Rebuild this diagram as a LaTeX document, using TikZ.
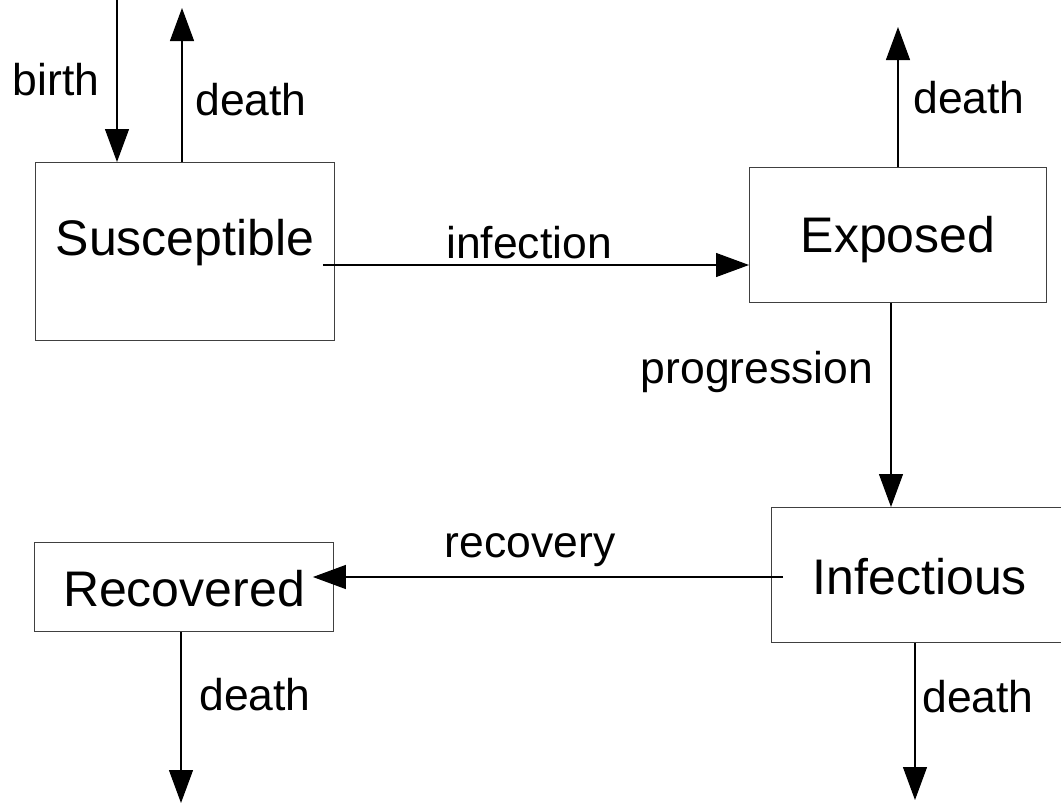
\documentclass[tikz,border=0pt]{standalone}
\usepackage{fontspec}
\setmainfont{Liberation Sans}
\usetikzlibrary{arrows.meta}
\begin{document}
\begin{tikzpicture}[x=1pt,y=-1pt,
  box/.style={draw=black!75, line width=0.9pt, inner sep=0pt, anchor=north west, font=\fontsize{50}{56}\selectfont},
  lbl/.style={inner sep=0pt, anchor=base, font=\fontsize{44.5}{50}\selectfont},
  arr/.style={line width=1.2pt, -{Triangle[length=33pt,width=24pt]}}]
\useasboundingbox (0,0) rectangle (1061,806);
% compartments
\node[box, minimum width=299pt, text height=93pt, text depth=85pt] (S) at (35,162) {Susceptible};
\node[box, minimum width=297pt, text height=85pt, text depth=50pt] (E) at (749,167) {Exposed};
\node[box, minimum width=297pt, text height=87pt, text depth=48pt] (I) at (771,507) {Infectious};
\node[box, minimum width=299pt, text height=64pt, text depth=25pt] (R) at (34,542) {Recovered};
% helper coordinates
\coordinate (birthsrc) at (117,0);
\coordinate (Sdeath) at (182,8);
\coordinate (Edeath) at (898,27);
\coordinate (Ideath) at (915,800);
\coordinate (Rdeath) at (181,803);
\coordinate (infrow) at (0,265);
\coordinate (recrow) at (0,577);
\coordinate (progx) at (891,0);
% flows
\draw[arr] (birthsrc) -- (birthsrc |- S.north);
\draw[arr] (Sdeath |- S.north) -- (Sdeath);
\draw[arr] ([xshift=-12pt]S.east |- infrow) -- (E.west |- infrow);
\draw[arr] (Edeath |- E.north) -- (Edeath);
\draw[arr] (progx |- E.south) -- (progx |- I.north);
\draw[arr] (Ideath |- I.south) -- (Ideath);
\draw[arr] ([xshift=12pt]I.west |- recrow) -- ([xshift=-21pt]R.east |- recrow);
\draw[arr] (Rdeath |- R.south) -- (Rdeath);
% labels
\node[lbl] (lbirth) at (56,95) {birth};
\node[lbl] (lSdeath) at (251,115) {death};
\node[lbl] (lEdeath) at (969,113) {death};
\node[lbl] (linf) at (529,258) {infection};
\node[lbl] (lprog) at (757,383) {progression};
\node[lbl] (lrec) at (530,557) {recovery};
\node[lbl] (lRdeath) at (255,710) {death};
\node[lbl] (lIdeath) at (978,712) {death};
\end{tikzpicture}
\end{document}
